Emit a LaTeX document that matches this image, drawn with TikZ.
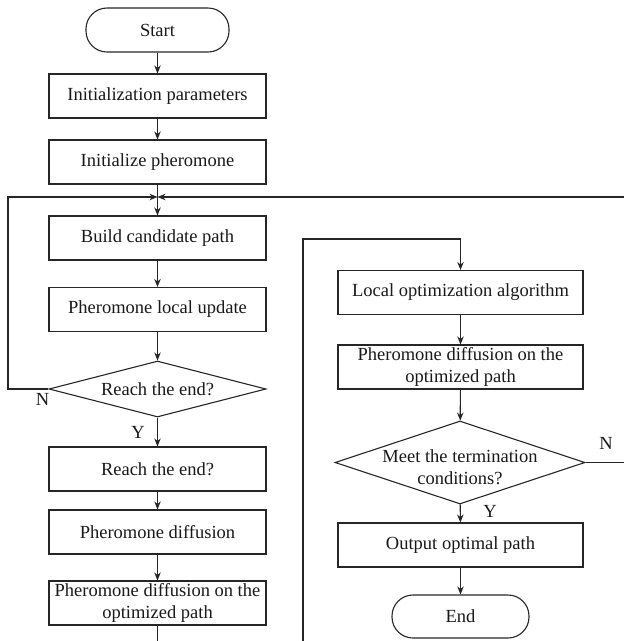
\documentclass[tikz,border=0pt]{standalone}
\usepackage{fontspec}
\setmainfont{Liberation Serif}
\usetikzlibrary{shapes.geometric,arrows.meta}
\begin{document}
\begin{tikzpicture}[x=1pt,y=-1pt, line width=1.1pt, draw=black!85,
  every node/.style={font=\fontsize{18.5}{22}\selectfont, text=black!90},
  proc/.style={draw, rectangle, minimum width=217pt, minimum height=44pt, inner sep=2pt, align=center},
  term/.style={draw, rectangle, rounded corners=21pt, minimum width=143pt, minimum height=44pt, inner sep=2pt},
  dec/.style={draw, diamond, inner sep=0pt},
  arr/.style={-{Stealth[length=8pt,width=6.5pt]}},
  lbl/.style={inner sep=0pt}]
\useasboundingbox (0,0) rectangle (624,641);
% left column
\node[term] (start) at (157.5,30) {Start};
\node[proc] (init) at (157.5,96) {Initialization parameters};
\node[proc] (ipher) at (157.5,162) {Initialize pheromone};
\coordinate (junc) at (157.5,197);
\node[proc] (build) at (157.5,238) {Build candidate path};
\node[proc] (local) at (157.5,309.5) {Pheromone local update};
\node[dec, minimum width=217pt, minimum height=56pt] (reach) at (157.5,389) {};
\node (reacht) at (reach) {Reach the end?};
\node[proc] (reach2) at (157.5,469) {Reach the end?};
\node[proc] (pdiff) at (157.5,532) {Pheromone diffusion};
\node[proc] (pdiffo) at (157.5,603) {Pheromone diffusion on the\\optimized path};
\coordinate (lbot) at (157.5,641);
\coordinate (lft) at (8,197);
\coordinate (redge) at (624,197);
\node[lbl] (n1) at (42.5,399) {N};
\node[lbl] (y1) at (138,432.5) {Y};
% right column
\coordinate (rbot) at (303,641);
\coordinate (rtop) at (303,239);
\node[proc, minimum width=245pt] (lopt) at (460.5,292.5) {Local optimization algorithm};
\node[proc, minimum width=245pt] (pdr) at (460.5,367) {Pheromone diffusion on the\\optimized path};
\node[dec, minimum width=250pt, minimum height=83pt] (meet) at (460,462.5) {};
\node[align=center] (meett) at (460,467) {Meet the termination\\conditions?};
\node[proc, minimum width=245pt] (out) at (460.5,545) {Output optimal path};
\node[term, minimum width=137pt, minimum height=43pt] (end) at (460.5,616.5) {End};
\coordinate (redge2) at (624,462.5);
\node[lbl] (n2) at (606,443) {N};
\node[lbl] (y2) at (490,511) {Y};
% connectors
\draw[arr] (start) -- (init);
\draw[arr] (init) -- (ipher);
\draw[arr] (ipher) -- (build);
\draw[arr] (reach.west) -| (lft) -- (junc);
\draw[arr] (redge) -- (junc);
\draw[arr] (build) -- (local);
\draw[arr] (local) -- (reach);
\draw[arr] (reach) -- (reach2);
\draw[arr] (reach2) -- (pdiff);
\draw[arr] (pdiff) -- (pdiffo);
\draw (pdiffo) -- (lbot);
\draw[arr] (rbot) -- (rtop) -| (lopt.north);
\draw[arr] (lopt) -- (pdr);
\draw[arr] (pdr) -- (meet);
\draw[arr] (meet) -- (out);
\draw[arr] (out) -- (end);
\draw (meet.east) -- (redge2);
\end{tikzpicture}
\end{document}
